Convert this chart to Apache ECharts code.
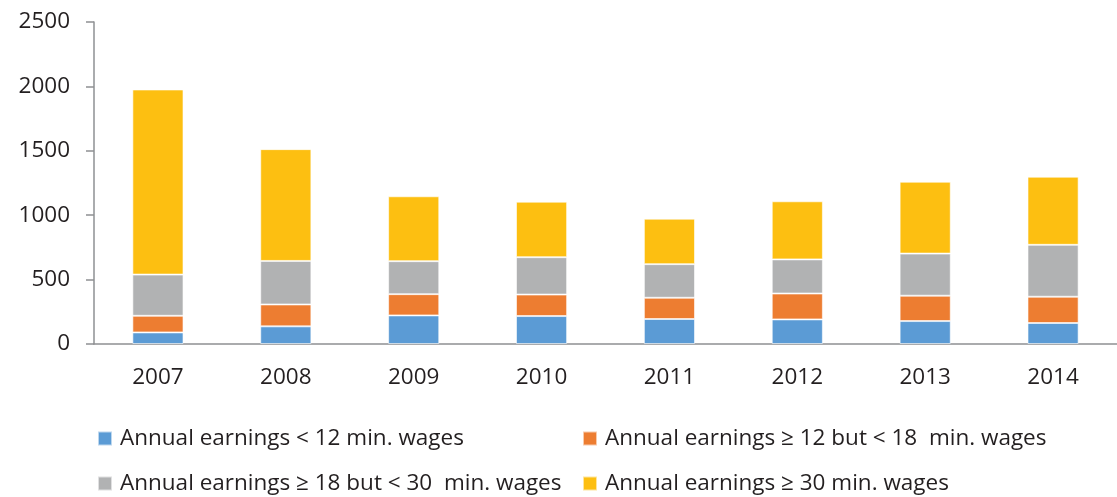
<!DOCTYPE html>
<html><head><meta charset="utf-8">
<script src="https://cdn.jsdelivr.net/npm/echarts@6/dist/echarts.min.js"></script>
<style>html,body{margin:0;padding:0;background:#fff}#c{width:1117px;height:497px}</style>
</head><body><div id="c"></div>
<script>
const categories = ['2007','2008','2009','2010','2011','2012','2013','2014'];
const seriesNames = ['Annual earnings < 12 min. wages','Annual earnings \u2265 12 but < 18  min. wages','Annual earnings \u2265 18 but < 30  min. wages','Annual earnings \u2265 30 min. wages'];
const below12 = [90,137,222,217,194,191,178,163];
const from12to18 = [129,170,165,167,165,201,197,204];
const from18to30 = [320,338,256,290,261,265,327,403];
const above30 = [1437,868,504,431,353,451,558,529];
const colors = ['#5B9BD5','#ED7D31','#B1B2B3','#FDBF11'];
const values = [below12, from12to18, from18to30, above30];
const FONT = 'Open Sans';
const txt = '#231F20';
const chart = echarts.init(document.getElementById('c'));
const legendPos = [[97,427],[582,427],[97,472],[582,472]];
chart.setOption({
  animation:false,
  grid:{left:94, top:22, width:1027, height:322, containLabel:false},
  xAxis:{type:'category', data:categories,
    axisLine:{lineStyle:{color:'#8E9093',width:1.5}},
    axisTick:{length:8,lineStyle:{color:'#8E9093',width:1.5}},
    axisLabel:{margin:22,fontSize:22.5,color:txt,fontFamily:FONT}},
  yAxis:{type:'value',min:0,max:2500,interval:500,
    axisLine:{show:true,lineStyle:{color:'#8E9093',width:1.5}},
    axisTick:{show:true,length:8,lineStyle:{color:'#8E9093',width:1.5}},
    splitLine:{show:false},
    axisLabel:{margin:24,fontSize:22.5,color:txt,fontFamily:FONT,formatter:v=>String(v)}},
  legend: seriesNames.map((n,i)=>({data:[n],left:legendPos[i][0],top:legendPos[i][1],icon:'rect',itemWidth:14,itemHeight:14,itemGap:8,padding:0,
    textStyle:{fontSize:22.5,color:txt,fontFamily:FONT,padding:[0,0,0,3]}})),
  series: seriesNames.map((n,i)=>({name:n,type:'bar',stack:'total',barWidth:'40%',data:values[i],
    itemStyle:{color:colors[i],borderColor:'rgba(255,255,255,0.6)',borderWidth:1}}))
});
</script></body></html>
